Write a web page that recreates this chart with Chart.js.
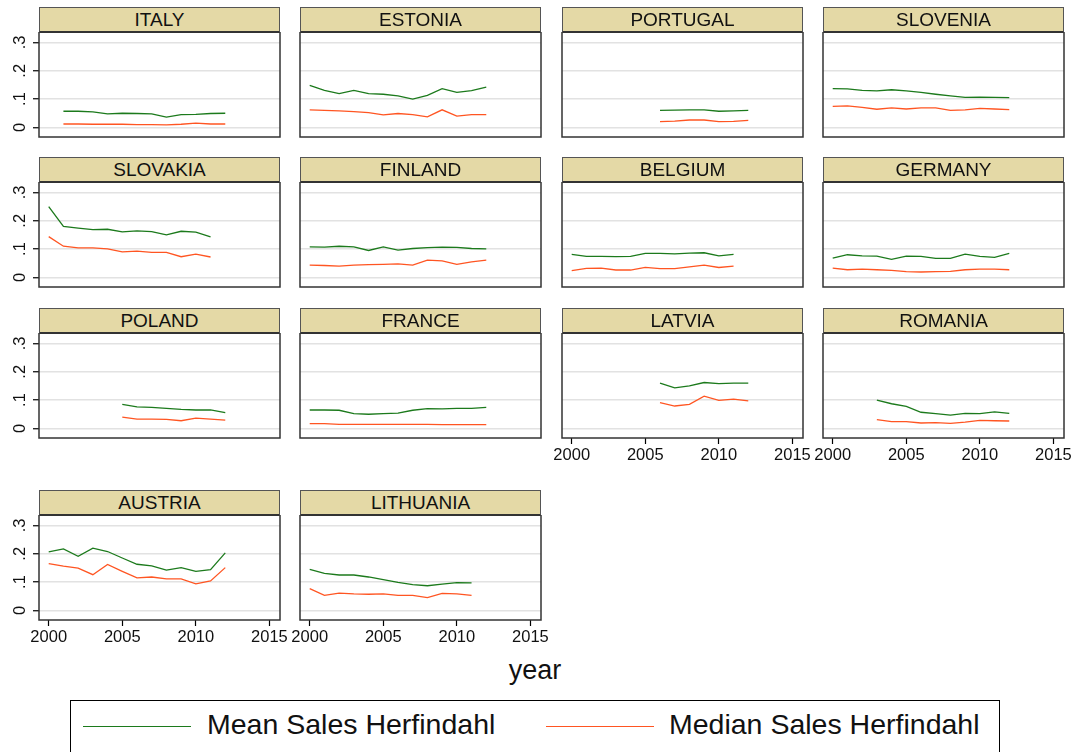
<!DOCTYPE html>
<html>
<head>
<meta charset="utf-8">
<script src="https://cdn.jsdelivr.net/npm/chart.js@4.4.1/dist/chart.umd.min.js"></script>
<style>
    body { margin: 0; background: #fff; font-family: "Liberation Sans", Arial, sans-serif; }
    #page { position: relative; width: 1078px; height: 752px; overflow: hidden; }
    canvas { position: absolute; }
    .strip {
        position: absolute; z-index: 2; box-sizing: border-box; height: 26px;
        background: #e4d9a6; border: 1px solid #555; border-bottom: 2px solid #333;
        text-align: center; font-size: 19px; line-height: 23px; color: #111;
    }
    #xtitle { position: absolute; left: 485px; top: 655px; width: 100px; text-align: center; font-size: 27px; color: #111; }
    #legend { position: absolute; left: 70px; top: 700px; width: 930px; height: 70px; box-sizing: border-box; border: 1px solid #000; }
    .key { position: absolute; top: 25px; height: 0; border-top: 1.3px solid; }
    .keytext { position: absolute; top: 7px; font-size: 28.5px; color: #111; white-space: nowrap; }
</style>
</head>
<body>
<div id="page">
    <div id="xtitle">year</div>
    <div id="legend">
        <div class="key" style="left:12px;width:108px;border-color:#1c7a1c"></div>
        <div class="keytext" style="left:136px">Mean Sales Herfindahl</div>
        <div class="key" style="left:475px;width:108px;border-color:#ff5522"></div>
        <div class="keytext" style="left:598px">Median Sales Herfindahl</div>
    </div>
</div>
<script>
const years = [2000, 2001, 2002, 2003, 2004, 2005, 2006, 2007, 2008, 2009, 2010, 2011, 2012];
const xTicks = [2000, 2005, 2010, 2015];
const yTicks = [0, 0.1, 0.2, 0.3];

const italyMean      = [null, .057, .057, .055, .048, .050, .049, .048, .036, .045, .046, .049, .050];
const italyMedian    = [null, .012, .012, .011, .011, .011, .010, .010, .009, .011, .015, .012, .012];
const estoniaMean    = [.148, .131, .119, .131, .119, .117, .111, .100, .113, .137, .124, .130, .142];
const estoniaMedian  = [.062, .060, .058, .056, .052, .044, .049, .045, .037, .062, .040, .045, .045];
const portugalMean   = [null, null, null, null, null, null, .060, .061, .062, .062, .057, .058, .060];
const portugalMedian = [null, null, null, null, null, null, .020, .022, .026, .026, .020, .021, .025];
const sloveniaMean   = [.137, .136, .131, .129, .133, .129, .124, .117, .111, .106, .107, .106, .105];
const sloveniaMedian = [.074, .076, .071, .064, .069, .065, .069, .069, .060, .062, .067, .065, .063];
const slovakiaMean   = [.250, .180, .174, .169, .170, .161, .164, .162, .150, .163, .160, .143, null];
const slovakiaMedian = [.144, .110, .104, .104, .101, .090, .093, .088, .088, .073, .082, .072, null];
const finlandMean    = [.108, .107, .110, .108, .095, .108, .096, .102, .105, .107, .106, .102, .101];
const finlandMedian  = [.043, .042, .040, .043, .045, .046, .048, .043, .061, .058, .046, .055, .061];
const belgiumMean    = [.081, .074, .074, .073, .074, .085, .085, .083, .086, .087, .076, .081, null];
const belgiumMedian  = [.024, .032, .033, .026, .026, .035, .031, .031, .037, .043, .035, .040, null];
const germanyMean    = [.068, .080, .076, .075, .064, .075, .074, .067, .067, .082, .074, .071, .085];
const germanyMedian  = [.033, .027, .029, .027, .025, .020, .019, .020, .021, .027, .029, .029, .027];
const polandMean     = [null, null, null, null, null, .085, .076, .074, .071, .067, .065, .065, .056];
const polandMedian   = [null, null, null, null, null, .040, .033, .033, .032, .027, .036, .033, .029];
const franceMean     = [.065, .065, .064, .052, .050, .052, .054, .064, .070, .069, .071, .071, .074];
const franceMedian   = [.017, .017, .014, .014, .014, .014, .014, .014, .014, .013, .013, .013, .013];
const latviaMean     = [null, null, null, null, null, null, .160, .143, .150, .162, .158, .160, .160];
const latviaMedian   = [null, null, null, null, null, null, .091, .079, .085, .114, .099, .103, .097];
const romaniaMean    = [null, null, null, .100, .087, .078, .057, .052, .047, .053, .052, .058, .053];
const romaniaMedian  = [null, null, null, .031, .024, .024, .019, .020, .018, .022, .028, .027, .026];
const austriaMean    = [.207, .217, .191, .220, .208, .185, .163, .157, .142, .151, .138, .144, .203];
const austriaMedian  = [.165, .156, .149, .126, .162, .138, .115, .118, .111, .111, .094, .104, .151];
const lithuaniaMean  = [.145, .131, .125, .125, .118, .109, .099, .091, .087, .093, .098, .097, null];
const lithuaniaMedian= [.077, .053, .061, .058, .057, .058, .053, .053, .045, .060, .058, .053, null];

const countries = ['ITALY', 'ESTONIA', 'PORTUGAL', 'SLOVENIA', 'SLOVAKIA', 'FINLAND', 'BELGIUM',
    'GERMANY', 'POLAND', 'FRANCE', 'LATVIA', 'ROMANIA', 'AUSTRIA', 'LITHUANIA'];
const meanSeries = [italyMean, estoniaMean, portugalMean, sloveniaMean, slovakiaMean, finlandMean, belgiumMean,
    germanyMean, polandMean, franceMean, latviaMean, romaniaMean, austriaMean, lithuaniaMean];
const medianSeries = [italyMedian, estoniaMedian, portugalMedian, sloveniaMedian, slovakiaMedian, finlandMedian, belgiumMedian,
    germanyMedian, polandMedian, franceMedian, latviaMedian, romaniaMedian, austriaMedian, lithuaniaMedian];

const GREEN = '#1c7a1c';
const RED = '#ff5522';
const colLeft = [39, 300, 562, 823];
const rowTop = [7, 157, 308, 490];
const PLOT_W = 241, PLOT_H = 105, STRIP_H = 26, LEFT_M = 39, BOTTOM_M = 40, RIGHT_M = 24;

function toPoints(vals) {
    const pts = [];
    vals.forEach(function (v, i) { if (v !== null) pts.push({ x: years[i], y: v }); });
    return pts;
}

function yLabel(v) {
    return v === 0 ? '0' : '.' + Math.round(v * 10);
}

// box round the plot area, rotated y labels on the left column
const panelDeco = {
    id: 'panelDeco',
    afterDraw(chart, args, opts) {
        const a = chart.chartArea, c = chart.ctx;
        c.save();
        c.strokeStyle = '#333';
        c.lineWidth = 1.5;
        c.strokeRect(a.left, a.top, a.right - a.left, a.bottom - a.top);
        if (opts.showY) {
            const ys = chart.scales.y;
            c.fillStyle = '#111';
            c.font = '16.5px "Liberation Sans", Arial, sans-serif';
            c.textAlign = 'center';
            c.textBaseline = 'middle';
            ys.ticks.forEach(function (t) {
                c.save();
                c.translate(20, ys.getPixelForValue(t.value));
                c.rotate(-Math.PI / 2);
                c.fillText(yLabel(t.value), 0, 0);
                c.restore();
            });
        }
        c.restore();
    }
};

const page = document.getElementById('page');

countries.forEach(function (name, i) {
    const row = Math.floor(i / 4), col = i % 4;
    const showY = col === 0;
    const showX = (row === 3) || (row === 2 && col >= 2);
    const left = colLeft[col], top = rowTop[row];

    const strip = document.createElement('div');
    strip.className = 'strip';
    strip.textContent = name;
    strip.style.left = left + 'px';
    strip.style.top = top + 'px';
    strip.style.width = PLOT_W + 'px';
    page.appendChild(strip);

    const cv = document.createElement('canvas');
    cv.width = LEFT_M + PLOT_W + RIGHT_M;
    cv.height = PLOT_H + BOTTOM_M;
    cv.style.left = (left - LEFT_M) + 'px';
    cv.style.top = (top + STRIP_H - 1) + 'px';
    page.appendChild(cv);

    new Chart(cv, {
        type: 'line',
        data: {
            datasets: [
                { label: 'Mean Sales Herfindahl', data: toPoints(meanSeries[i]), borderColor: GREEN, borderWidth: 1.3, pointRadius: 0, tension: 0 },
                { label: 'Median Sales Herfindahl', data: toPoints(medianSeries[i]), borderColor: RED, borderWidth: 1.3, pointRadius: 0, tension: 0 }
            ]
        },
        options: {
            responsive: false,
            animation: false,
            layout: { padding: { left: 0, top: 0, bottom: 0, right: RIGHT_M } },
            plugins: { legend: { display: false }, tooltip: { enabled: false }, panelDeco: { showY: showY } },
            scales: {
                x: {
                    type: 'linear', min: 1999.34, max: 2015.72,
                    afterBuildTicks: function (s) { s.ticks = xTicks.map(function (v) { return { value: v }; }); },
                    afterFit: function (s) { s.height = BOTTOM_M; },
                    border: { display: false },
                    grid: { drawOnChartArea: false, drawTicks: showX, tickLength: 6, tickColor: '#000', tickWidth: 1.2 },
                    ticks: {
                        display: showX, autoSkip: false, maxRotation: 0, padding: 2, color: '#111',
                        font: { family: '"Liberation Sans", Arial, sans-serif', size: 16.5 },
                        callback: function (v) { return String(v); }
                    }
                },
                y: {
                    min: -0.034, max: 0.337,
                    afterBuildTicks: function (s) { s.ticks = yTicks.map(function (v) { return { value: v }; }); },
                    afterFit: function (s) { s.width = LEFT_M; },
                    border: { display: false },
                    grid: {
                        color: '#e2e2e2', lineWidth: 1.5, drawTicks: showY, tickLength: 6,
                        tickColor: '#000', tickWidth: 1.2
                    },
                    ticks: { display: false }
                }
            }
        },
        plugins: [panelDeco]
    });
});
</script>
</body>
</html>
